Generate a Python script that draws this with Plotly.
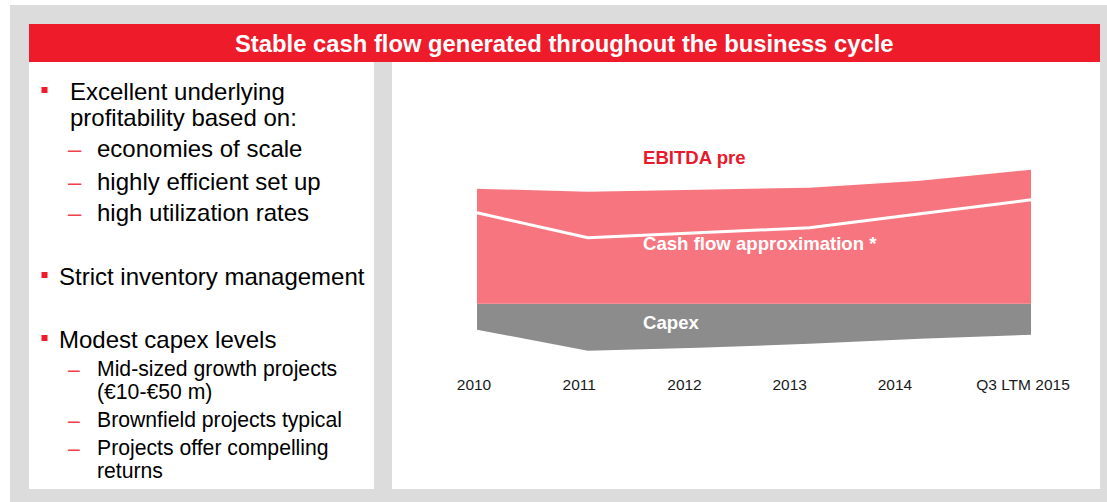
import plotly.graph_objects as go

# values (arbitrary units, EUR m scale unknown)
years = ["2010", "2011", "2012", "2013", "2014", "Q3 LTM 2015"]
ebitda_pre = [115, 112, 114, 116, 123, 134]
cash_flow = [91, 66, 71, 76, 90, 104]
capex = [-26, -47, -44, -40, -35, -31]

title = "Stable cash flow generated throughout the business cycle"
left_text = [
    # (kind, text, size, y center px)
    ("bullet", "Excellent underlying", 24, 91),
    ("cont", "profitability based on:", 24, 117),
    ("dash", "economies of scale", 24, 149),
    ("dash", "highly efficient set up", 24, 181),
    ("dash", "high utilization rates", 24, 212),
    ("bullet2", "Strict inventory management", 24, 276),
    ("bullet2", "Modest capex levels", 24, 339),
    ("dash", "Mid-sized growth projects", 21.2, 369),
    ("cont", "(€10-€50 m)", 21.2, 392),
    ("dash", "Brownfield projects typical", 21.2, 420),
    ("dash", "Projects offer compelling", 21.2, 448),
    ("cont", "returns", 21.2, 470),
]

W, H = 1107, 502
RED = "#EE1C2B"
PINK = "#F7757F"
GREY = "#8C8C8C"
BG = "#DCDCDC"
FONT = "Liberation Sans, Arial, sans-serif"


def px(x):
    return x / W


def py(y):
    return 1 - y / H


def label(txt, x, y, size, color, anchor="left", bold=False):
    if bold:
        txt = "<b>" + txt + "</b>"
    return dict(text=txt, xref="paper", yref="paper", x=px(x), y=py(y),
                xanchor=anchor, yanchor="middle", showarrow=False,
                font=dict(family=FONT, size=size, color=color))


fig = go.Figure()
fig.add_trace(go.Scatter(x=years, y=capex, mode="lines", line=dict(width=0),
                         fill="tozeroy", fillcolor=GREY, hoverinfo="skip"))
fig.add_trace(go.Scatter(x=years, y=ebitda_pre, mode="lines", line=dict(width=0),
                         fill="tozeroy", fillcolor=PINK, hoverinfo="skip"))
fig.add_trace(go.Scatter(x=years, y=cash_flow, mode="lines",
                         line=dict(color="white", width=3), hoverinfo="skip"))
# dummy trace so the label axis is drawn
fig.add_trace(go.Scatter(x=[0, 5.2], y=[None, None], xaxis="x2", mode="lines",
                         hoverinfo="skip"))

shapes = [
    dict(type="rect", xref="paper", yref="paper", x0=px(10), x1=px(1107), y0=py(502), y1=py(5),
         fillcolor=BG, line_width=0, layer="below"),
    dict(type="rect", xref="paper", yref="paper", x0=px(29), x1=px(1100), y0=py(62), y1=py(24),
         fillcolor=RED, line_width=0, layer="below"),
    dict(type="rect", xref="paper", yref="paper", x0=px(29), x1=px(374), y0=py(489), y1=py(62),
         fillcolor="white", line_width=0, layer="below"),
    dict(type="rect", xref="paper", yref="paper", x0=px(392), x1=px(1100), y0=py(489), y1=py(62),
         fillcolor="white", line_width=0, layer="below"),
    # white gap between EBITDA and capex
    dict(type="line", xref="x", yref="y", x0=years[0], x1=years[-1], y0=0, y1=0,
         line=dict(color="white", width=3.5), layer="above"),
]

annotations = [
    label(title, 564.5, 43, 23.8, "white", anchor="center", bold=True),
    label("EBITDA pre", 641, 158, 18.6, "#E8192C", bold=True),
    label("Cash flow approximation *", 641, 243, 18.6, "white", bold=True),
    label("Capex", 641, 322, 18.6, "white", bold=True),
]

for kind, txt, size, yc in left_text:
    if kind in ("bullet", "bullet2"):
        tx = 68 if kind == "bullet" else 57
        shapes.append(dict(type="rect", xref="paper", yref="paper", x0=px(41.5), x1=px(47.5),
                           y0=py(yc + 2), y1=py(yc - 4), fillcolor=RED, line_width=0))
    elif kind == "dash":
        tx = 95
        annotations.append(label("–", 66, yc, size, "#F0414B"))
    else:
        tx = 68 if size > 22 else 95
    annotations.append(label(txt, tx, yc, size, "black"))

# plot area 440..1080 px horizontally, 140..373 px vertically
fig.update_layout(
    width=W, height=H, autosize=False,
    margin=dict(l=0, r=0, t=0, b=0),
    paper_bgcolor="white", plot_bgcolor="rgba(0,0,0,0)",
    showlegend=False,
    shapes=shapes, annotations=annotations,
    xaxis=dict(domain=[px(440), px(1080)], range=[-0.334, 5.442], type="category",
               showticklabels=False, showgrid=False, zeroline=False, showline=False),
    xaxis2=dict(overlaying="x", anchor="y", side="bottom", range=[-0.323, 5.758],
                tickvals=[0, 1, 2, 3, 4, 5.216], ticktext=years,
                showgrid=False, zeroline=False, showline=False,
                tickfont=dict(family=FONT, size=15.5, color="#1a1a1a")),
    yaxis=dict(domain=[py(373), py(140)], range=[-69.25, 163.75], visible=False),
)

fig.write_html("out.html", config={"displayModeBar": False},
               post_script="document.body.style.margin='0';")
